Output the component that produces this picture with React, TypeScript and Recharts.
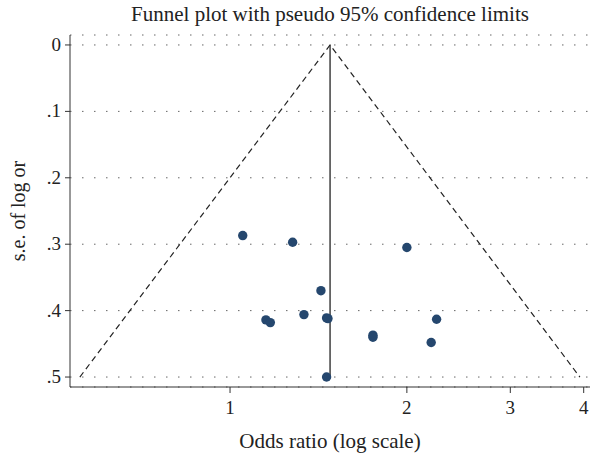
import React from "react";
import {
	CartesianGrid,
	Scatter,
	ScatterChart,
	XAxis,
	YAxis,
} from "recharts";

// studies: odds ratio and standard error of log OR
const oddsRatios = [1.051, 1.278, 2.0, 1.428, 1.151, 1.171, 1.336, 1.46, 1.468, 1.751, 1.751, 2.247, 2.2, 1.46];
const seLogOr = [0.287, 0.297, 0.305, 0.37, 0.414, 0.418, 0.406, 0.411, 0.412, 0.437, 0.44, 0.413, 0.448, 0.5];

// pooled estimate and pseudo 95% limits at se = 0.5
const pooledOr = 1.48;
const funnelX = [0.555, pooledOr, 3.94];
const funnelY = [0.5, 0, 0.5];
const pooledY = [0, 0.5];

const xTicks = [1, 2, 3, 4];
const yTicks = [0, 0.1, 0.2, 0.3, 0.4, 0.5];

const studies = oddsRatios.map((x, i) => ({ x, y: seLogOr[i] }));
const funnel = funnelX.map((x, i) => ({ x, y: funnelY[i] }));
const pooled = pooledY.map((y) => ({ x: pooledOr, y }));

const font = "'Liberation Serif', 'DejaVu Serif', serif";
const ink = "#222";

function Dot({ cx, cy }: { cx?: number; cy?: number }) {
	if (cx == null || cy == null) return null;
	return <circle cx={cx} cy={cy} r={4.7} fill="#25476e" />;
}

const fmtY = (v: number) => (v === 0 ? "0" : String(v).replace(/^0/, ""));

function XTick({ x, y, payload }: any) {
	return (
		<text
			x={x}
			y={y + 19}
			textAnchor="middle"
			fontSize={19}
			fontFamily={font}
			fill={ink}
		>
			{payload.value}
		</text>
	);
}

function YTick({ x, y, payload }: any) {
	return (
		<text
			x={x - 2}
			y={y + 6}
			textAnchor="end"
			fontSize={19}
			fontFamily={font}
			fill={ink}
		>
			{fmtY(payload.value)}
		</text>
	);
}

export default function App() {
	return (
		<div style={{ position: "absolute", left: 0, top: 0, fontFamily: font }}>
			<div
				style={{
					position: "absolute",
					left: 70,
					width: 520,
					top: 2,
					textAlign: "center",
					fontSize: 21,
					color: ink,
				}}
			>
				Funnel plot with pseudo 95% confidence limits
			</div>
			<ScatterChart
				width={590}
				height={455}
				margin={{ top: 35, right: 0, bottom: 0, left: 0 }}
			>
				<CartesianGrid
					vertical={false}
					stroke="#666"
					strokeDasharray="1.5 10.5"
				/>
				<XAxis
					dataKey="x"
					type="number"
					scale="log"
					domain={[0.534, 4.1]}
					ticks={xTicks}
					allowDataOverflow
					height={68}
					tickSize={6}
					tick={<XTick />}
					stroke="#333"
					label={{
						value: "Odds ratio (log scale)",
						position: "insideBottom",
						offset: 7,
						fontSize: 21,
						fill: ink,
						fontFamily: font,
					}}
				/>
				<YAxis
					dataKey="y"
					type="number"
					domain={[-0.015, 0.515]}
					reversed
					ticks={yTicks}
					width={70}
					tickSize={5}
					tick={<YTick />}
					stroke="#333"
					label={{
						value: "s.e. of log or",
						angle: -90,
						position: "insideLeft",
						offset: 18,
						style: { textAnchor: "middle" },
						fontSize: 20,
						fill: ink,
						fontFamily: font,
					}}
				/>
				<Scatter
					data={funnel}
					line={{ stroke: "#222", strokeWidth: 1.2, strokeDasharray: "6 4" }}
					shape={() => null}
					isAnimationActive={false}
				/>
				<Scatter
					data={pooled}
					line={{ stroke: "#222", strokeWidth: 1.3 }}
					shape={() => null}
					isAnimationActive={false}
				/>
				<Scatter data={studies} shape={<Dot />} isAnimationActive={false} />
			</ScatterChart>
		</div>
	);
}
